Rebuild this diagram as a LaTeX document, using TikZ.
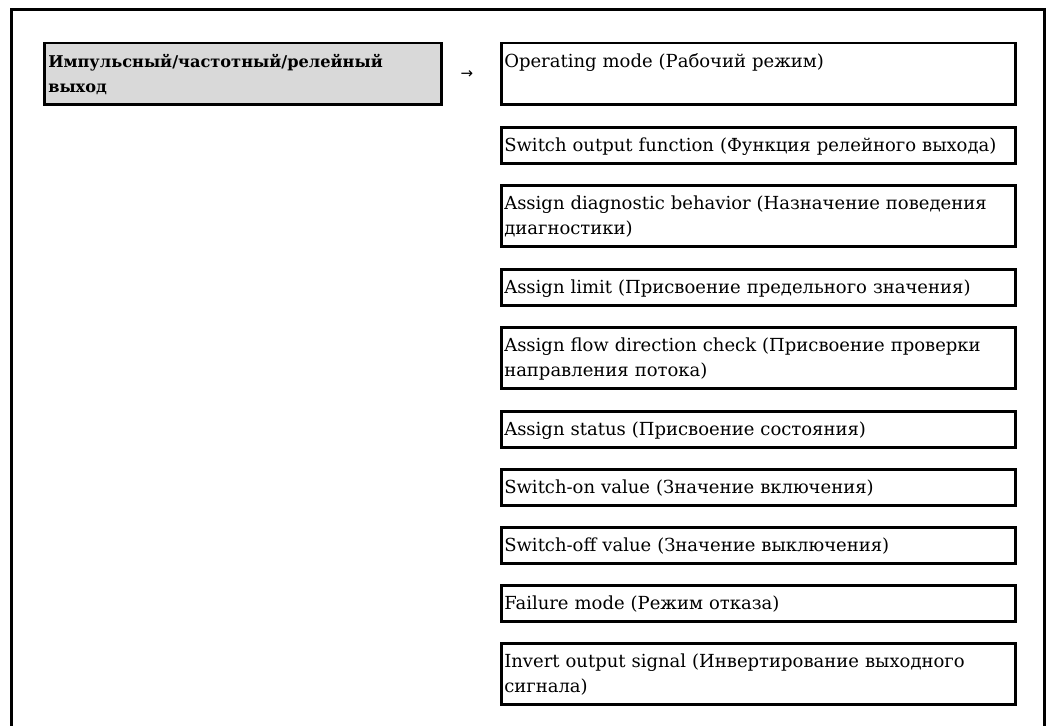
\documentclass[tikz,border=0pt]{standalone}
\usepackage{fontspec}
\setmainfont{DejaVu Serif}
\newfontfamily\symfont{DejaVu Sans}
\definecolor{boxgray}{RGB}{217,217,217}
\newcommand\tp{\rule{0pt}{24pt}}
\newcommand\bt{\rule[-12pt]{0pt}{12pt}}
\begin{document}
\begin{tikzpicture}[x=1pt,y=-1pt,
  rbox/.style={draw, line width=2.5pt, anchor=north west, minimum width=514pt,
    text width=508pt, inner xsep=3pt, inner ysep=0pt, align=left,
    font=\fontsize{18}{25}\selectfont},
  lbox/.style={rbox, fill=boxgray, minimum width=397pt, text width=389pt,
    inner xsep=4pt, font=\fontsize{16.2}{25}\selectfont\bfseries},
  frameline/.style={line width=3pt}]
\useasboundingbox (0,0) rectangle (1051,725);
\draw[frameline] (11,726) -- (11,10) -- (1044,10) -- (1044,726);
\node[lbox] (main) at (43,42) {\tp Импульсный/частотный/релейный\\выход\bt};
\node[font=\fontsize{15}{16}\symfont] (arr) at (467,75) {→};
\node[rbox] (b1) at (500,42) {\tp Operating mode (Рабочий режим)\\\mbox{}\bt};
\node[rbox] (b2) at (500,126) {\tp Switch output function (Функция релейного выхода)\bt};
\node[rbox] (b3) at (500,184) {\tp Assign diagnostic behavior (Назначение поведения\\диагностики)\bt};
\node[rbox] (b4) at (500,268) {\tp Assign limit (Присвоение предельного значения)\bt};
\node[rbox] (b5) at (500,326) {\tp Assign flow direction check (Присвоение проверки\\направления потока)\bt};
\node[rbox] (b6) at (500,410) {\tp Assign status (Присвоение состояния)\bt};
\node[rbox] (b7) at (500,468) {\tp Switch-on value (Значение включения)\bt};
\node[rbox] (b8) at (500,526) {\tp Switch-off value (Значение выключения)\bt};
\node[rbox] (b9) at (500,584) {\tp Failure mode (Режим отказа)\bt};
\node[rbox] (b10) at (500,642) {\tp Invert output signal (Инвертирование выходного\\сигнала)\bt};
\end{tikzpicture}
\end{document}
